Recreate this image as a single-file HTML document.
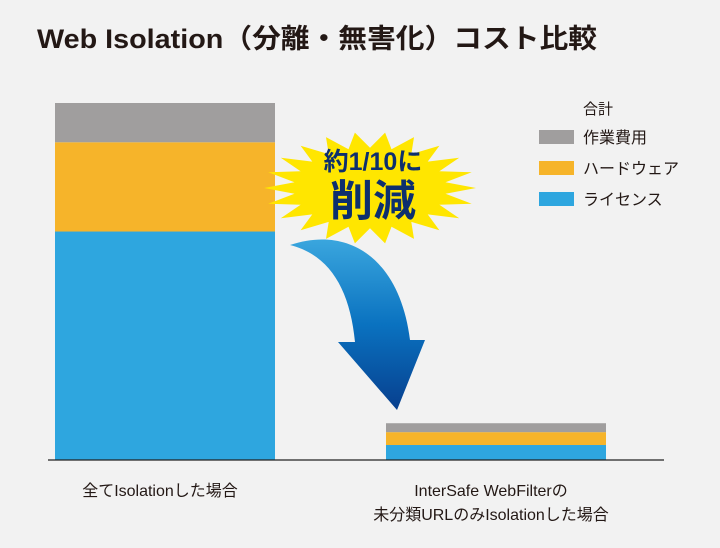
<!DOCTYPE html>
<html><head><meta charset="utf-8"><style>
body{margin:0;background:#f2f2f2}
svg{display:block}
text{font-family:"Liberation Sans","Noto Sans CJK JP",sans-serif}
</style></head><body>
<svg id="chart" width="720" height="548" viewBox="0 0 720 548">
<defs>
<linearGradient id="ag" x1="0" y1="0" x2="0" y2="1">
<stop offset="0" stop-color="#3aa6de"/><stop offset="0.5" stop-color="#0a72c0"/><stop offset="1" stop-color="#073f8e"/>
</linearGradient>
</defs>
<rect width="720" height="548" fill="#f2f2f2"/>
<text x="37" y="48" font-size="27" font-weight="bold" fill="#231815" textLength="560" lengthAdjust="spacingAndGlyphs">Web Isolation（分離・無害化）コスト比較</text>
<g id="bars"></g>
<line x1="48" y1="460" x2="664" y2="460" stroke="#222" stroke-width="1.2"/>
<g id="xlabels"></g>
<path d="M290,245 C350,225 400,260 410,340 L425,340 L397,410 L338,342 L355,342 C350,290 330,255 290,245 Z" fill="url(#ag)"/>
<polygon id="burst" fill="#ffe600"/>
<text x="373" y="170" font-size="25" font-weight="bold" fill="#0d2f6e" text-anchor="middle">約1/10に</text>
<text x="373" y="216" font-size="43" font-weight="bold" fill="#0d2f6e" text-anchor="middle">削減</text>
<g id="legend"></g>
</svg>
<script>
const categories=["全てIsolationした場合","InterSafe WebFilterの|未分類URLのみIsolationした場合"];
const seriesNames=["ライセンス","ハードウェア","作業費用"];
const license=[64,4.2];
const hardware=[25,3.6];
const work=[11,2.5];
const colors=["#2ea6df","#f6b42a","#a09e9e"];
const NS="http://www.w3.org/2000/svg";
const y0=460,pxPer=3.57;
const yScale=v=>y0-v*pxPer;
const xLeft=[55,386],bw=220;
const bars=document.getElementById('bars');
const series=[license,hardware,work];
categories.forEach((c,i)=>{
  let acc=0;
  series.forEach((s,k)=>{
    const r=document.createElementNS(NS,'rect');
    r.setAttribute('x',xLeft[i]);r.setAttribute('width',bw);
    r.setAttribute('y',yScale(acc+s[i]));r.setAttribute('height',s[i]*pxPer);
    r.setAttribute('fill',colors[k]);
    
    
    bars.appendChild(r);acc+=s[i];
  });
  const lines=c.split('|');
  lines.forEach((l,j)=>{
    const t=document.createElementNS(NS,'text');
    t.setAttribute('x',xLeft[i]+bw/2-5);t.setAttribute('y',496+j*24);
    t.setAttribute('text-anchor','middle');t.setAttribute('font-size','16');t.setAttribute('fill','#231815');
    
    
    t.textContent=l;document.getElementById('xlabels').appendChild(t);
  });
});
// burst
const pts=[];const n=44;
for(let i=0;i<n;i++){const a=i/n*2*Math.PI;const r=i%2?0.72:1;pts.push((370+Math.cos(a)*106*r).toFixed(1)+','+(188+Math.sin(a)*56*r).toFixed(1));}
document.getElementById('burst').setAttribute('points',pts.join(' '));
// legend
const lg=document.getElementById('legend');
const t0=document.createElementNS(NS,'text');
t0.setAttribute('x',583);t0.setAttribute('y',114);t0.setAttribute('font-size','15');t0.setAttribute('fill','#231815');


t0.textContent='合計';lg.appendChild(t0);
[2,1,0].forEach((k,j)=>{
  const r=document.createElementNS(NS,'rect');
  r.setAttribute('x',539);r.setAttribute('y',130+j*31);r.setAttribute('width',35);r.setAttribute('height',14);r.setAttribute('fill',colors[k]);
  
  
  lg.appendChild(r);
  const t=document.createElementNS(NS,'text');
  t.setAttribute('x',583);t.setAttribute('y',143+j*31);t.setAttribute('font-size','16');t.setAttribute('fill','#231815');
  
  
  t.textContent=seriesNames[k];lg.appendChild(t);
});
</script>
</body></html>
